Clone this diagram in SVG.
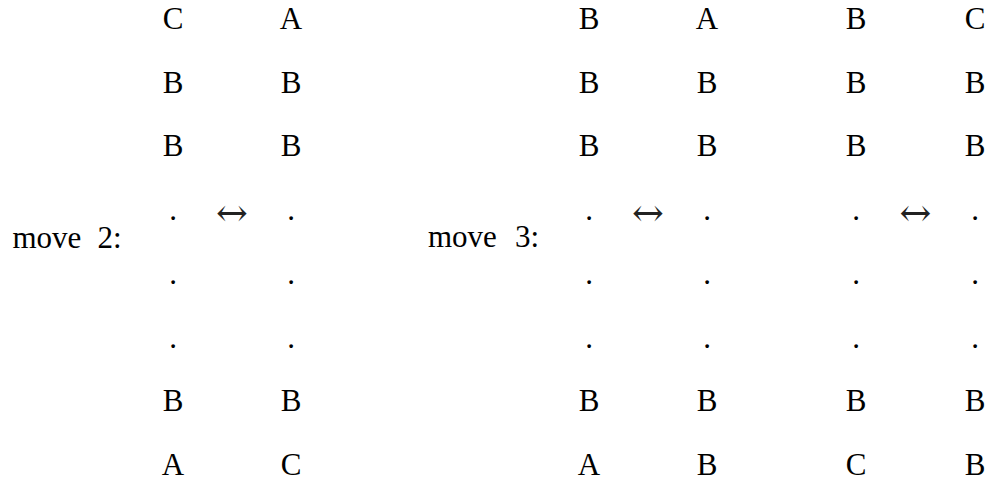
<svg xmlns="http://www.w3.org/2000/svg" width="992" height="483" viewBox="0 0 992 483">
<style>
text{font-family:"Liberation Serif","Times New Roman",serif;font-size:31px;fill:#000}
.c{text-anchor:middle}
.arr{font-family:"DejaVu Serif","Liberation Serif",serif;font-size:38px;text-anchor:middle;fill:#222}
</style>
<rect width="992" height="483" fill="#fff"/>
<g id="label-move2"><text x="12.5" y="248">move</text><text x="97.5" y="248">2:</text></g>
<g id="label-move3"><text x="428" y="247">move</text><text x="515" y="247">3:</text></g>
<g id="col-173" class="c">
<text class="c" x="173" y="29">C</text><text class="c" x="173" y="92.7">B</text><text class="c" x="173" y="156.4">B</text><text class="c" x="173" y="220">.</text><text class="c" x="173" y="283.8">.</text><text class="c" x="173" y="347.5">.</text><text class="c" x="173" y="411.2">B</text><text class="c" x="173" y="475">A</text>
</g>
<g id="col-291">
<text class="c" x="291" y="29">A</text><text class="c" x="291" y="92.7">B</text><text class="c" x="291" y="156.4">B</text><text class="c" x="291" y="220">.</text><text class="c" x="291" y="283.8">.</text><text class="c" x="291" y="347.5">.</text><text class="c" x="291" y="411.2">B</text><text class="c" x="291" y="475">C</text>
</g>
<g id="col-589">
<text class="c" x="589" y="29">B</text><text class="c" x="589" y="92.7">B</text><text class="c" x="589" y="156.4">B</text><text class="c" x="589" y="220">.</text><text class="c" x="589" y="283.8">.</text><text class="c" x="589" y="347.5">.</text><text class="c" x="589" y="411.2">B</text><text class="c" x="589" y="475">A</text>
</g>
<g id="col-707">
<text class="c" x="707" y="29">A</text><text class="c" x="707" y="92.7">B</text><text class="c" x="707" y="156.4">B</text><text class="c" x="707" y="220">.</text><text class="c" x="707" y="283.8">.</text><text class="c" x="707" y="347.5">.</text><text class="c" x="707" y="411.2">B</text><text class="c" x="707" y="475">B</text>
</g>
<g id="col-856">
<text class="c" x="856" y="29">B</text><text class="c" x="856" y="92.7">B</text><text class="c" x="856" y="156.4">B</text><text class="c" x="856" y="220">.</text><text class="c" x="856" y="283.8">.</text><text class="c" x="856" y="347.5">.</text><text class="c" x="856" y="411.2">B</text><text class="c" x="856" y="475">C</text>
</g>
<g id="col-975">
<text class="c" x="975" y="29">C</text><text class="c" x="975" y="92.7">B</text><text class="c" x="975" y="156.4">B</text><text class="c" x="975" y="220">.</text><text class="c" x="975" y="283.8">.</text><text class="c" x="975" y="347.5">.</text><text class="c" x="975" y="411.2">B</text><text class="c" x="975" y="475">B</text>
</g>
<g id="connectors">
<text class="arr" x="232" y="225.5">↔</text>
<text class="arr" x="648" y="225.5">↔</text>
<text class="arr" x="915.5" y="225.5">↔</text>
</g>
</svg>
